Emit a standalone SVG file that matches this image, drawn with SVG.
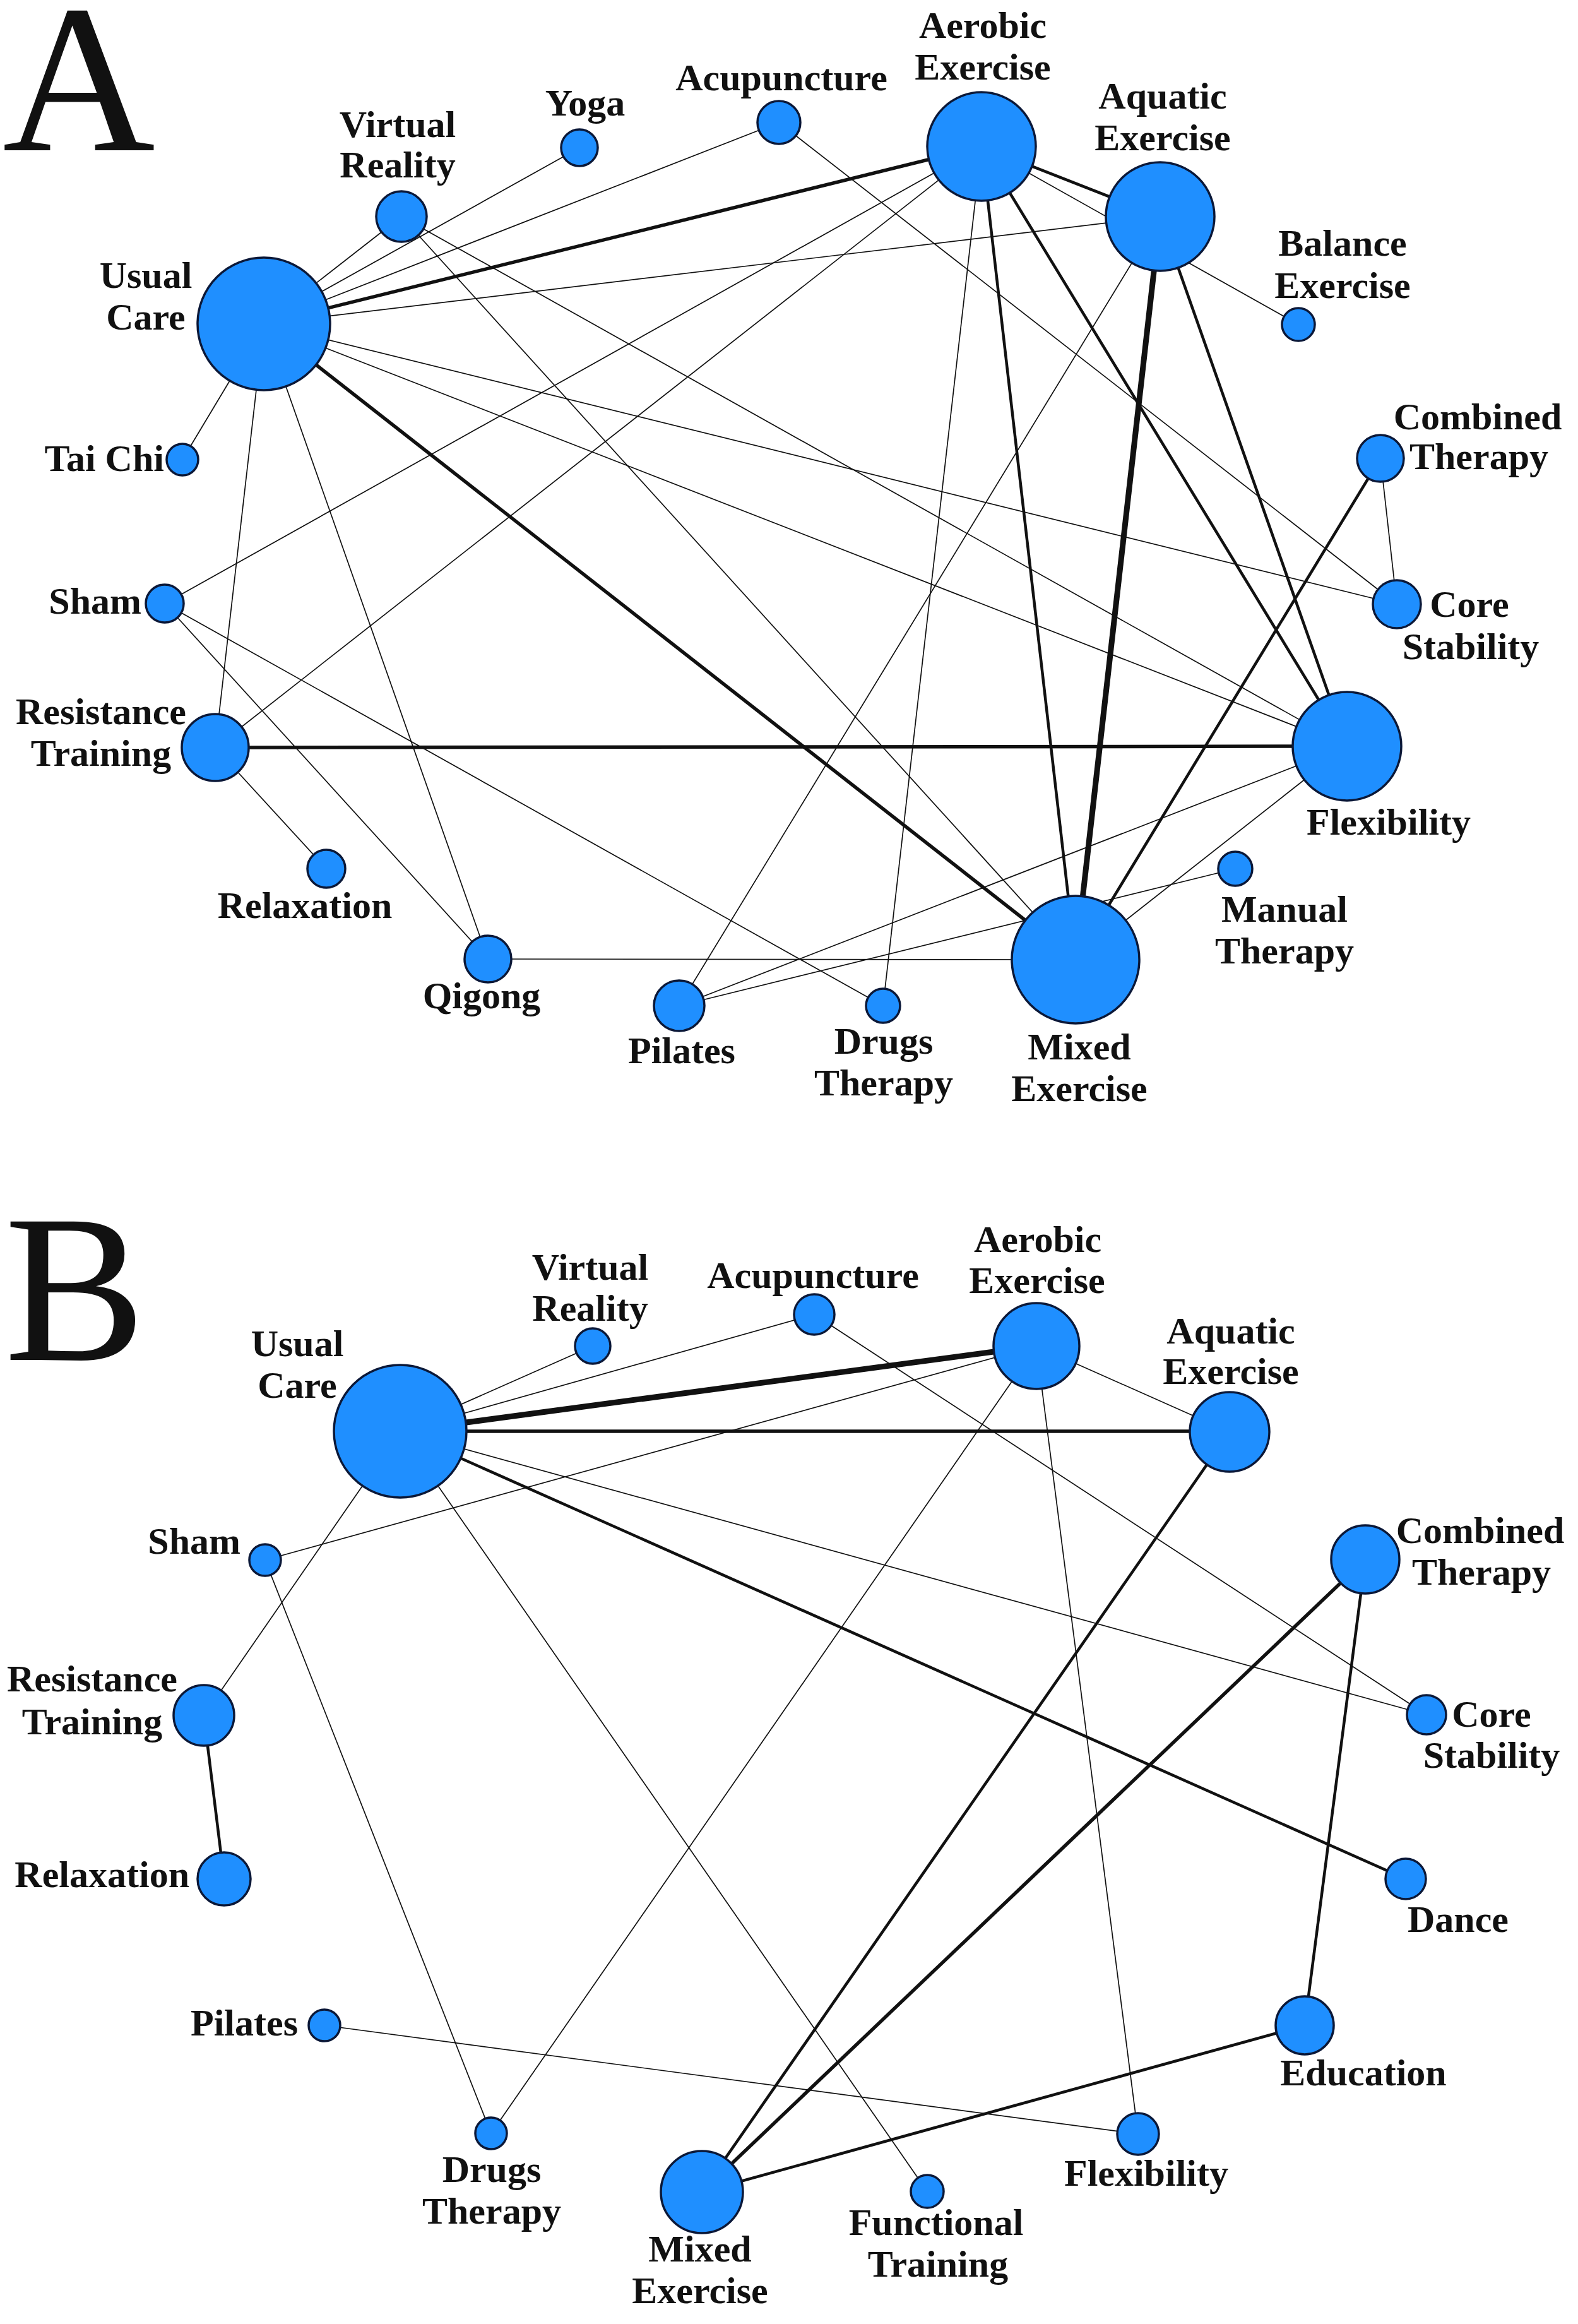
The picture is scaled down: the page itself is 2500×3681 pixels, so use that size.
<svg xmlns="http://www.w3.org/2000/svg" width="2500" height="3681" viewBox="0 0 2500 3681">
<style>
.bg{fill:#ffffff}
.e{stroke:#111;stroke-width:1.7;fill:none}
.t1{stroke:#111;stroke-width:4.5;fill:none}
.t2{stroke:#111;stroke-width:5.5;fill:none}
.t3{stroke:#111;stroke-width:9;fill:none}
.n circle{fill:#1f8fff;stroke:#0b1838;stroke-width:3.5}
text{font-family:"Liberation Serif","Times New Roman",serif;fill:#111}
.lb{font-size:60px;font-weight:bold;text-anchor:middle}
.end{text-anchor:end}
.big{font-size:335px;font-weight:normal}
</style>
<rect class="bg" x="0" y="0" width="2500" height="3681"/>
<text class="big" x="4" y="238">A</text>
<text class="big" x="7" y="2154">B</text>

<g id="connectors-A">
<line class="e" x1="418" y1="513" x2="636" y2="343"/>
<line class="e" x1="418" y1="513" x2="918" y2="234"/>
<line class="e" x1="418" y1="513" x2="1234" y2="194"/>
<line class="t2" x1="418" y1="513" x2="1555" y2="232"/>
<line class="e" x1="418" y1="513" x2="1838" y2="343"/>
<line class="e" x1="418" y1="513" x2="289" y2="728"/>
<line class="e" x1="418" y1="513" x2="341" y2="1184"/>
<line class="e" x1="418" y1="513" x2="773" y2="1519"/>
<line class="e" x1="418" y1="513" x2="2213" y2="957"/>
<line class="e" x1="418" y1="513" x2="2134" y2="1182"/>
<line class="t2" x1="418" y1="513" x2="1704" y2="1520"/>
<line class="e" x1="636" y1="343" x2="2134" y2="1182"/>
<line class="e" x1="636" y1="343" x2="1704" y2="1520"/>
<line class="e" x1="1234" y1="194" x2="2213" y2="957"/>
<line class="t1" x1="1555" y1="232" x2="1838" y2="343"/>
<line class="e" x1="1555" y1="232" x2="2057" y2="514"/>
<line class="t1" x1="1555" y1="232" x2="1704" y2="1520"/>
<line class="t1" x1="1555" y1="232" x2="2134" y2="1182"/>
<line class="e" x1="1555" y1="232" x2="1399" y2="1593"/>
<line class="e" x1="1555" y1="232" x2="261" y2="956"/>
<line class="e" x1="1555" y1="232" x2="341" y2="1184"/>
<line class="t3" x1="1838" y1="343" x2="1704" y2="1520"/>
<line class="t1" x1="1838" y1="343" x2="2134" y2="1182"/>
<line class="e" x1="1838" y1="343" x2="1076" y2="1593"/>
<line class="e" x1="2187" y1="726" x2="2213" y2="957"/>
<line class="t1" x1="2187" y1="726" x2="1704" y2="1520"/>
<line class="t2" x1="341" y1="1184" x2="2134" y2="1182"/>
<line class="e" x1="341" y1="1184" x2="517" y2="1376"/>
<line class="e" x1="261" y1="956" x2="773" y2="1519"/>
<line class="e" x1="261" y1="956" x2="1399" y2="1593"/>
<line class="e" x1="773" y1="1519" x2="1704" y2="1520"/>
<line class="e" x1="1076" y1="1593" x2="2134" y2="1182"/>
<line class="e" x1="1076" y1="1593" x2="1957" y2="1376"/>
<line class="e" x1="1704" y1="1520" x2="2134" y2="1182"/>
</g>

<g id="connectors-B">
<line class="e" x1="634" y1="2267" x2="939" y2="2132"/>
<line class="e" x1="634" y1="2267" x2="1290" y2="2082"/>
<line class="t3" x1="634" y1="2267" x2="1642" y2="2132"/>
<line class="t2" x1="634" y1="2267" x2="1948" y2="2267"/>
<line class="e" x1="634" y1="2267" x2="2260" y2="2716"/>
<line class="t1" x1="634" y1="2267" x2="2227" y2="2976"/>
<line class="e" x1="634" y1="2267" x2="323" y2="2717"/>
<line class="e" x1="634" y1="2267" x2="1469" y2="3471"/>
<line class="e" x1="420" y1="2471" x2="1642" y2="2132"/>
<line class="e" x1="420" y1="2471" x2="778" y2="3379"/>
<line class="e" x1="1642" y1="2132" x2="1948" y2="2268"/>
<line class="e" x1="1642" y1="2132" x2="778" y2="3379"/>
<line class="e" x1="1642" y1="2132" x2="1803" y2="3380"/>
<line class="e" x1="1290" y1="2082" x2="2260" y2="2716"/>
<line class="t1" x1="1948" y1="2268" x2="1112" y2="3472"/>
<line class="t2" x1="2163" y1="2470" x2="1112" y2="3472"/>
<line class="t1" x1="2163" y1="2470" x2="2067" y2="3208"/>
<line class="t1" x1="1112" y1="3472" x2="2067" y2="3208"/>
<line class="t1" x1="323" y1="2717" x2="355" y2="2976"/>
<line class="e" x1="514" y1="3208" x2="1803" y2="3380"/>
</g>

<g id="A-usual-care" class="n"><circle cx="418" cy="513" r="105"/><text class="lb" x="231" y="456">Usual</text><text class="lb" x="231" y="522">Care</text></g>
<g id="A-virtual-reality" class="n"><circle cx="636" cy="343" r="40"/><text class="lb" x="630" y="217">Virtual</text><text class="lb" x="630" y="281">Reality</text></g>
<g id="A-yoga" class="n"><circle cx="918" cy="234" r="29"/><text class="lb" x="927" y="183">Yoga</text></g>
<g id="A-acupuncture" class="n"><circle cx="1234" cy="194" r="34"/><text class="lb" x="1238" y="143">Acupuncture</text></g>
<g id="A-aerobic-exercise" class="n"><circle cx="1555" cy="232" r="86"/><text class="lb" x="1557" y="60">Aerobic</text><text class="lb" x="1557" y="126">Exercise</text></g>
<g id="A-aquatic-exercise" class="n"><circle cx="1838" cy="343" r="86"/><text class="lb" x="1842" y="172">Aquatic</text><text class="lb" x="1842" y="238">Exercise</text></g>
<g id="A-balance-exercise" class="n"><circle cx="2057" cy="514" r="26"/><text class="lb" x="2127" y="405">Balance</text><text class="lb" x="2127" y="472">Exercise</text></g>
<g id="A-combined-therapy" class="n"><circle cx="2187" cy="726" r="37"/><text class="lb" x="2341" y="680">Combined</text><text class="lb" x="2343" y="743">Therapy</text></g>
<g id="A-core-stability" class="n"><circle cx="2213" cy="957" r="38"/><text class="lb" x="2328" y="977">Core</text><text class="lb" x="2330" y="1044">Stability</text></g>
<g id="A-flexibility" class="n"><circle cx="2134" cy="1182" r="86"/><text class="lb" x="2200" y="1322">Flexibility</text></g>
<g id="A-manual-therapy" class="n"><circle cx="1957" cy="1376" r="27"/><text class="lb" x="2035" y="1460">Manual</text><text class="lb" x="2035" y="1526">Therapy</text></g>
<g id="A-mixed-exercise" class="n"><circle cx="1704" cy="1520" r="101"/><text class="lb" x="1710" y="1678">Mixed</text><text class="lb" x="1710" y="1744">Exercise</text></g>
<g id="A-drugs-therapy" class="n"><circle cx="1399" cy="1593" r="27"/><text class="lb" x="1400" y="1669">Drugs</text><text class="lb" x="1400" y="1735">Therapy</text></g>
<g id="A-pilates" class="n"><circle cx="1076" cy="1593" r="40"/><text class="lb" x="1080" y="1684">Pilates</text></g>
<g id="A-qigong" class="n"><circle cx="773" cy="1519" r="37"/><text class="lb" x="763" y="1597">Qigong</text></g>
<g id="A-relaxation" class="n"><circle cx="517" cy="1376" r="30"/><text class="lb" x="483" y="1454">Relaxation</text></g>
<g id="A-resistance-training" class="n"><circle cx="341" cy="1184" r="53"/><text class="lb" x="160" y="1147">Resistance</text><text class="lb" x="160" y="1213">Training</text></g>
<g id="A-sham" class="n"><circle cx="261" cy="956" r="30"/><text class="lb end" x="224" y="972">Sham</text></g>
<g id="A-tai-chi" class="n"><circle cx="289" cy="728" r="25"/><text class="lb end" x="260" y="746">Tai Chi</text></g>

<g id="B-usual-care" class="n"><circle cx="634" cy="2267" r="105"/><text class="lb" x="471" y="2148">Usual</text><text class="lb" x="471" y="2214">Care</text></g>
<g id="B-virtual-reality" class="n"><circle cx="939" cy="2132" r="28"/><text class="lb" x="935" y="2027">Virtual</text><text class="lb" x="935" y="2092">Reality</text></g>
<g id="B-acupuncture" class="n"><circle cx="1290" cy="2082" r="32"/><text class="lb" x="1288" y="2040">Acupuncture</text></g>
<g id="B-aerobic-exercise" class="n"><circle cx="1642" cy="2132" r="68"/><text class="lb" x="1644" y="1983">Aerobic</text><text class="lb" x="1643" y="2048">Exercise</text></g>
<g id="B-aquatic-exercise" class="n"><circle cx="1948" cy="2268" r="63"/><text class="lb" x="1950" y="2128">Aquatic</text><text class="lb" x="1950" y="2192">Exercise</text></g>
<g id="B-sham" class="n"><circle cx="420" cy="2471" r="25"/><text class="lb end" x="381" y="2461">Sham</text></g>
<g id="B-resistance-training" class="n"><circle cx="323" cy="2717" r="48"/><text class="lb" x="146" y="2679">Resistance</text><text class="lb" x="146" y="2747">Training</text></g>
<g id="B-relaxation" class="n"><circle cx="355" cy="2976" r="42"/><text class="lb end" x="300" y="2989">Relaxation</text></g>
<g id="B-combined-therapy" class="n"><circle cx="2163" cy="2470" r="54"/><text class="lb" x="2345" y="2444">Combined</text><text class="lb" x="2347" y="2510">Therapy</text></g>
<g id="B-core-stability" class="n"><circle cx="2260" cy="2716" r="31"/><text class="lb" x="2363" y="2735">Core</text><text class="lb" x="2363" y="2800">Stability</text></g>
<g id="B-dance" class="n"><circle cx="2227" cy="2976" r="32"/><text class="lb" x="2310" y="3060">Dance</text></g>
<g id="B-education" class="n"><circle cx="2067" cy="3208" r="46"/><text class="lb" x="2160" y="3303">Education</text></g>
<g id="B-pilates" class="n"><circle cx="514" cy="3208" r="25"/><text class="lb end" x="472" y="3224">Pilates</text></g>
<g id="B-drugs-therapy" class="n"><circle cx="778" cy="3379" r="25"/><text class="lb" x="779" y="3456">Drugs</text><text class="lb" x="779" y="3522">Therapy</text></g>
<g id="B-mixed-exercise" class="n"><circle cx="1112" cy="3472" r="65"/><text class="lb" x="1109" y="3582">Mixed</text><text class="lb" x="1109" y="3648">Exercise</text></g>
<g id="B-functional-training" class="n"><circle cx="1469" cy="3471" r="26"/><text class="lb" x="1483" y="3540">Functional</text><text class="lb" x="1486" y="3606">Training</text></g>
<g id="B-flexibility" class="n"><circle cx="1803" cy="3380" r="33"/><text class="lb" x="1816" y="3462">Flexibility</text></g>
</svg>
